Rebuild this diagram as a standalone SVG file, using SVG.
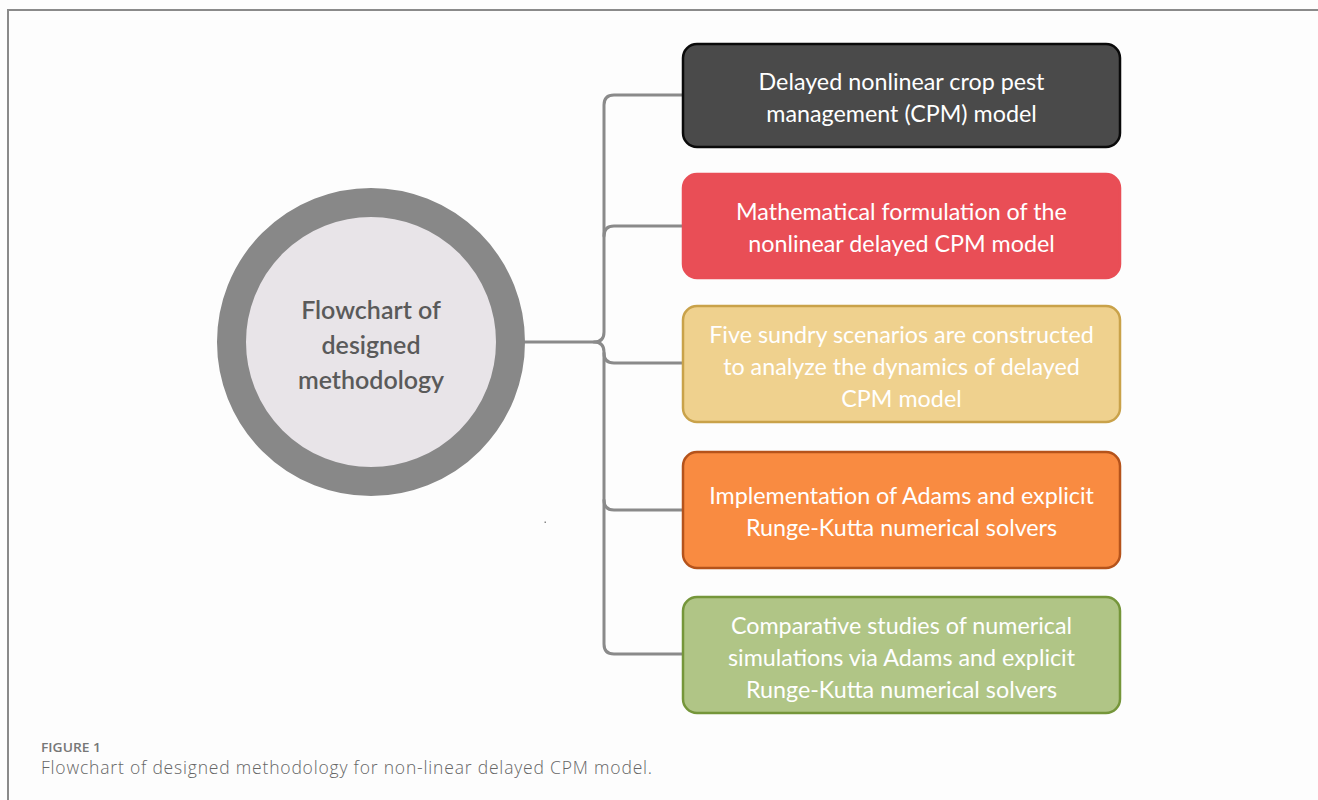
<svg xmlns="http://www.w3.org/2000/svg" width="1318" height="800" viewBox="0 0 1318 800">
  <style>
    .frame { fill: none; stroke: #8a8a8a; stroke-width: 2; }
    .link { fill: none; stroke: #8a8a8a; stroke-width: 3; stroke-linecap: round; }
    .box { stroke-width: 2.5; }
    .label { font-family: Lato, "Open Sans", sans-serif; font-size: 23.3px; fill: #ffffff; text-anchor: middle; dominant-baseline: central; }
    .hub { font-family: Lato, "Open Sans", sans-serif; font-size: 25px; font-weight: 600; fill: #5a5a5a; text-anchor: middle; dominant-baseline: central; }
    .cap-head { font-family: "Open Sans", Lato, sans-serif; font-size: 13px; font-weight: 600; fill: #777777; }
    .cap { font-family: "Open Sans", Lato, sans-serif; font-size: 17.5px; font-weight: 300; fill: #666666; }
  </style>
  <rect x="0" y="0" width="1318" height="800" fill="#fdfdfd"/>
  <path class="frame" d="M8,800 V10 H1318"/>

  <!-- branch connectors -->
  <g id="connectors">
    <path class="link" d="M525,342 H594 Q604,342 604,332 V105 Q604,95 614,95 H684"/>
    <path class="link" d="M594,342 Q604,342 604,352 V644 Q604,654 614,654 H684"/>
    <path class="link" d="M604,236 Q604,226 614,226 H684"/>
    <path class="link" d="M604,353 Q604,363 614,363 H684"/>
    <path class="link" d="M604,500 Q604,510 614,510 H684"/>
  </g>

  <!-- central hub -->
  <g id="hub">
    <circle cx="371" cy="342" r="139.5" fill="#e8e4e8" stroke="#888888" stroke-width="29"/>
    <text class="hub" x="371" y="309">Flowchart of</text>
    <text class="hub" x="371" y="344">designed</text>
    <text class="hub" x="371" y="379">methodology</text>
  </g>

  <g id="step1">
    <rect class="box" x="683" y="44" width="437" height="103" rx="14" fill="#4a4a4a" stroke="#0a0a0a"/>
    <text class="label" x="901.5" y="81">Delayed nonlinear crop pest</text>
    <text class="label" x="901.5" y="113">management (CPM) model</text>
  </g>

  <g id="step2">
    <rect class="box" x="683" y="174" width="437" height="104" rx="14" fill="#e94e56" stroke="#e94e56"/>
    <text class="label" x="901.5" y="211">Mathematical formulation of the</text>
    <text class="label" x="901.5" y="243">nonlinear delayed CPM model</text>
  </g>

  <g id="step3">
    <rect class="box" x="683" y="306" width="437" height="116" rx="14" fill="#efd18e" stroke="#c9a24a"/>
    <text class="label" x="901.5" y="334" fill="#fdf7ea">Five sundry scenarios are constructed</text>
    <text class="label" x="901.5" y="366">to analyze the dynamics of delayed</text>
    <text class="label" x="901.5" y="398">CPM model</text>
  </g>

  <g id="step4">
    <rect class="box" x="683" y="452" width="437" height="116" rx="14" fill="#f98b41" stroke="#b5531b"/>
    <text class="label" x="901.5" y="495">Implementation of Adams and explicit</text>
    <text class="label" x="901.5" y="527">Runge-Kutta numerical solvers</text>
  </g>

  <g id="step5">
    <rect class="box" x="683" y="597" width="437" height="116" rx="14" fill="#b0c586" stroke="#75963a"/>
    <text class="label" x="901.5" y="625">Comparative studies of numerical</text>
    <text class="label" x="901.5" y="657">simulations via Adams and explicit</text>
    <text class="label" x="901.5" y="689">Runge-Kutta numerical solvers</text>
  </g>

  <rect x="544.5" y="521.5" width="1.5" height="1.5" fill="#888888"/>

  <g id="caption">
    <text class="cap-head" x="41" y="752" textLength="60" lengthAdjust="spacingAndGlyphs">FIGURE 1</text>
    <text class="cap" x="41" y="774" textLength="611" lengthAdjust="spacing">Flowchart of designed methodology for non-linear delayed CPM model.</text>
  </g>
</svg>
